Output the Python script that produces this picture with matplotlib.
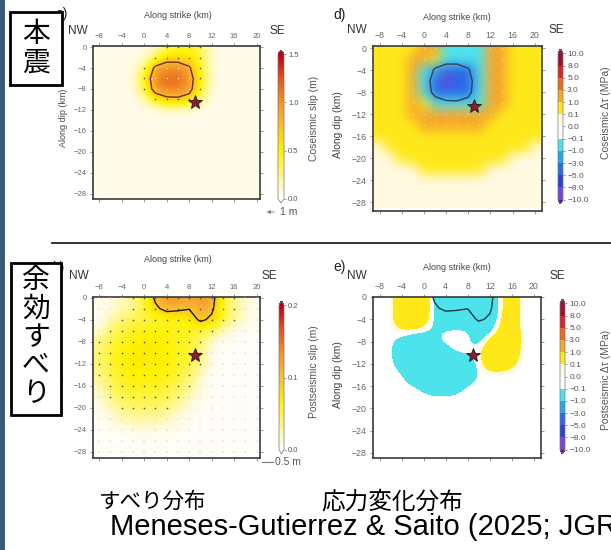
import numpy as np
import matplotlib
matplotlib.use('Agg')
import matplotlib.pyplot as plt
from matplotlib.colors import LinearSegmentedColormap, ListedColormap, BoundaryNorm, Normalize
from matplotlib.cm import ScalarMappable
from matplotlib.patches import Rectangle, FancyArrowPatch
from matplotlib.lines import Line2D

plt.rcParams['font.family'] = ['Liberation Sans', 'DejaVu Sans']
JP = ['Noto Sans CJK JP', 'DejaVu Sans']

W, H = 611, 550

# ---- data (2 km grid) ----
strike_km = [-8, -6, -4, -2, 0, 2, 4, 6, 8, 10, 12, 14, 16, 18, 20]
dip_km = [0, -2, -4, -6, -8, -10, -12, -14, -16, -18, -20, -22, -24, -26, -28]

# coseismic slip (m)
cos_slip = [
    [.05, .05, .05, .05, .05, .10, .33, .38, .42, .33, .07, .05, .05, .05, .05],
    [.05, .05, .05, .05, .08, .35, .60, .60, .55, .38, .08, .05, .05, .05, .05],
    [.05, .05, .05, .06, .30, .90, 1.05, 1.05, .85, .40, .08, .05, .05, .05, .05],
    [.05, .05, .05, .08, .45, 1.10, 1.15, 1.15, 1.00, .45, .08, .05, .05, .05, .05],
    [.05, .05, .05, .07, .38, 1.00, 1.10, 1.10, .95, .40, .07, .05, .05, .05, .05],
    [.05, .05, .05, .05, .15, .50, .70, .72, .62, .22, .05, .05, .05, .05, .05],
    [.05, .05, .05, .05, .05, .07, .09, .09, .07, .05, .05, .05, .05, .05, .05],
    [.05, .05, .05, .05, .05, .05, .05, .05, .05, .05, .05, .05, .05, .05, .05],
    [.05, .05, .05, .05, .05, .05, .05, .05, .05, .05, .05, .05, .05, .05, .05],
    [.05, .05, .05, .05, .05, .05, .05, .05, .05, .05, .05, .05, .05, .05, .05],
    [.05, .05, .05, .05, .05, .05, .05, .05, .05, .05, .05, .05, .05, .05, .05],
    [.05, .05, .05, .05, .05, .05, .05, .05, .05, .05, .05, .05, .05, .05, .05],
    [.05, .05, .05, .05, .05, .05, .05, .05, .05, .05, .05, .05, .05, .05, .05],
    [.05, .05, .05, .05, .05, .05, .05, .05, .05, .05, .05, .05, .05, .05, .05],
    [.05, .05, .05, .05, .05, .05, .05, .05, .05, .05, .05, .05, .05, .05, .05],
]

# postseismic slip (m)
post_slip = [
    [.005, .01, .02, .03, .05, .11, .13, .13, .12, .13, .12, .05, .03, .01, .005],
    [.005, .01, .02, .03, .05, .09, .115, .11, .102, .12, .11, .05, .03, .01, .005],
    [.005, .02, .035, .045, .05, .05, .06, .06, .07, .11, .09, .05, .03, .01, .005],
    [.01, .04, .05, .055, .06, .06, .06, .06, .055, .05, .045, .02, .005, .003, .003],
    [.03, .05, .06, .065, .07, .07, .065, .06, .055, .04, .01, .003, .003, .003, .003],
    [.035, .055, .065, .07, .07, .07, .065, .06, .055, .035, .005, .003, .003, .003, .003],
    [.035, .055, .065, .07, .07, .07, .065, .06, .05, .03, .005, .003, .003, .003, .003],
    [.03, .05, .06, .065, .065, .065, .06, .055, .04, .015, .003, .003, .003, .003, .003],
    [.02, .045, .055, .06, .06, .06, .055, .045, .03, .01, .003, .003, .003, .003, .003],
    [.01, .035, .045, .05, .05, .05, .045, .035, .02, .005, .003, .003, .003, .003, .003],
    [.005, .02, .035, .04, .04, .04, .035, .02, .01, .003, .003, .003, .003, .003, .003],
    [.003, .01, .02, .025, .025, .025, .02, .01, .005, .003, .003, .003, .003, .003, .003],
    [.003, .003, .005, .01, .01, .01, .005, .003, .003, .003, .003, .003, .003, .003, .003],
    [.003, .003, .003, .003, .003, .003, .003, .003, .003, .003, .003, .003, .003, .003, .003],
    [.003, .003, .003, .003, .003, .003, .003, .003, .003, .003, .003, .003, .003, .003, .003],
]

# coseismic shear stress change (MPa)
cos_stress = [
    [.6, .6, .7, .9, 1.2, 1.4, -.5, -.7, -.7, -.6, 1.3, 1.1, .8, .6, .6],
    [.6, .6, .8, 1.1, 1.4, .8, -.6, -.9, -.8, -.6, 1.4, 1.2, .8, .6, .5],
    [.5, .6, .8, 1.2, -.5, -2.5, -4.5, -4.5, -3.5, -.6, 1.4, 1.2, .8, .6, .5],
    [.5, .6, .8, 1.2, -.6, -4, -8.5, -5, -4, -.8, 1.4, 1.2, .8, .6, .5],
    [.5, .6, .8, 1.2, -.6, -3.5, -4.5, -4.5, -3.5, -.8, 1.4, 1.2, .8, .6, .5],
    [.5, .6, .8, 1.2, .2, -.6, -.8, -.8, -.7, -.5, 1.3, 1.1, .8, .6, .5],
    [.4, .5, .7, 1.0, 1.2, 1.3, 1.3, 1.3, 1.3, 1.2, 1.1, .9, .7, .5, .4],
    [.3, .4, .6, .8, 1.0, 1.1, 1.1, 1.1, 1.1, 1.0, .9, .7, .5, .4, .3],
    [.15, .25, .4, .55, .7, .8, .85, .85, .8, .7, .6, .5, .35, .25, .15],
    [.08, .12, .2, .3, .4, .5, .55, .55, .5, .45, .35, .25, .15, .1, .08],
    [.05, .06, .1, .15, .2, .25, .3, .3, .28, .22, .15, .1, .07, .05, .05],
    [.04, .05, .06, .08, .1, .12, .14, .14, .12, .1, .08, .06, .05, .04, .04],
    [.04, .04, .04, .05, .05, .06, .06, .06, .06, .05, .05, .04, .04, .04, .04],
    [.04, .04, .04, .04, .04, .04, .04, .04, .04, .04, .04, .04, .04, .04, .04],
    [.03, .03, .03, .03, .03, .03, .03, .03, .03, .03, .03, .03, .03, .03, .03],
]

# postseismic shear stress change (MPa)
post_stress = [
    [-.05, -.05, .5, .6, .4, -.15, -.6, -.6, -.6, -.6, -.5, .05, .5, -.1, -.05],
    [-.05, -.05, .5, .6, .4, -.15, -.6, -.5, -.6, -.6, -.5, .05, .5, -.1, -.05],
    [-.05, -.05, .5, .6, .4, -.2, -.4, -.3, -.4, -.5, -.4, .1, .5, -.1, -.05],
    [-.05, -.05, .05, .05, -.05, -.2, -.05, -.05, -.05, -.3, -.3, .3, .5, -.1, -.05],
    [-.05, -.05, -.2, -.4, -.4, -.1, -.05, -.05, -.05, -.25, .3, .5, .5, -.05, -.05],
    [-.05, -.05, -.3, -.5, -.5, -.4, -.2, -.05, -.05, .05, .5, .6, .4, -.05, -.05],
    [-.05, -.05, -.2, -.5, -.6, -.6, -.5, -.4, -.3, -.05, .4, .4, .2, -.05, -.05],
    [-.05, -.05, -.05, -.3, -.5, -.6, -.6, -.5, -.3, -.05, -.05, -.05, -.05, -.05, -.05],
    [-.05, -.05, -.05, -.05, -.15, -.3, -.3, -.2, -.05, -.05, -.05, -.05, -.05, -.05, -.05],
    [-.05, -.05, -.05, -.05, -.05, -.05, -.05, -.05, -.05, -.05, -.05, -.05, -.05, -.05, -.05],
    [-.05, -.05, -.05, -.05, -.05, -.05, -.05, -.05, -.05, -.05, -.05, -.05, -.05, -.05, -.05],
    [-.05, -.05, -.05, -.05, -.05, -.05, -.05, -.05, -.05, -.05, -.05, -.05, -.05, -.05, -.05],
    [-.05, -.05, -.05, -.05, -.05, -.05, -.05, -.05, -.05, -.05, -.05, -.05, -.05, -.05, -.05],
    [-.05, -.05, -.05, -.05, -.05, -.05, -.05, -.05, -.05, -.05, -.05, -.05, -.05, -.05, -.05],
    [-.05, -.05, -.05, -.05, -.05, -.05, -.05, -.05, -.05, -.05, -.05, -.05, -.05, -.05, -.05],
]

hypocenter = (9.0, -10.5)
x_ticks = [-8, -4, 0, 4, 8, 12, 16, 20]
y_ticks = [0, -4, -8, -12, -16, -20, -24, -28]
co_slip_ticks = [0.0, 0.5, 1.0, 1.5]
post_slip_ticks = [0.0, 0.1, 0.2]
stress_bounds = [-10, -8, -5, -3, -1, -0.1, 0, 0.1, 1, 3, 5, 8, 10]
stress_colors = ['#7a44d8', '#2a40d8', '#2a6ae8', '#25a8ea', '#4de3ec', '#ffffff',
                 '#fffae0', '#ffe81a', '#f6a82a', '#ee6a20', '#d8242a', '#a0102c']

# ---- colour maps ----
slip_cmap = LinearSegmentedColormap.from_list(
    'slip', [(0, '#ffffff'), (0.04, '#fffbe4'), (0.33, '#fff200'), (0.55, '#f9b233'),
             (0.7, '#f08a24'), (0.85, '#e04a1e'), (1.0, '#b8001a')])
slip_cmap.set_over('#a00018')
slip_cmap.set_under('#ffffff')
stress_cmap = ListedColormap(stress_colors)
stress_cmap.set_over('#7a1a50')
stress_cmap.set_under('#4a1a90')
stress_norm = BoundaryNorm(stress_bounds, stress_cmap.N)

fig = plt.figure(figsize=(W / 100, H / 100), dpi=100)


def fx(x):
    return x / W


def fy(y):
    return 1 - y / H


def box(l, t, r, b):
    return [fx(l), fy(b), (r - l) / W, (b - t) / H]


def ftext(x, y, s, **kw):
    return fig.text(fx(x), fy(y), s, **kw)


def draw_panel(rect, data, cmap, norm, xlim, ylim, stage='data', fs=5.5):
    ax = fig.add_axes(box(*rect))
    ext = (strike_km[0] - 1, strike_km[-1] + 1, dip_km[-1] - 1, dip_km[0] + 1)
    ax.imshow(np.array(data), cmap=cmap, norm=norm, extent=ext, origin='upper',
              interpolation='bicubic', interpolation_stage=stage, aspect='auto')
    ax.set_xlim(*xlim)
    ax.set_ylim(*ylim)
    ax.set_xticks(x_ticks)
    ax.set_yticks(y_ticks)
    ax.tick_params(top=True, bottom=True, left=True, right=True, labeltop=True,
                   labelbottom=False, direction='out', length=2.5, width=0.6,
                   color='#888888', labelsize=fs, labelcolor='#666666', pad=2)
    for sp in ax.spines.values():
        sp.set_linewidth(1.2)
        sp.set_color('#3a3a3a')
    ax.plot(*hypocenter, marker='*', ms=10, mfc='#8e1b2e', mec='#1a1a1a', mew=0.6, zorder=6)
    return ax


def draw_cbar(rect, cmap, norm, ticks, labels, fs=5.5):
    cax = fig.add_axes(box(*rect))
    sm = ScalarMappable(norm=norm, cmap=cmap)
    cb = fig.colorbar(sm, cax=cax, extend='both', extendfrac=0.03, ticks=ticks,
                      spacing='uniform')
    cb.set_ticklabels(labels)
    cb.outline.set_linewidth(0.5)
    cb.outline.set_edgecolor('#777777')
    cax.tick_params(labelsize=fs, labelcolor='#555555', length=1.5, width=0.5,
                    pad=1.5, color='#666666')
    return cb


gx, gy = np.meshgrid(strike_km, dip_km)

# a) coseismic slip
ax_a = draw_panel((93, 46, 260, 199), cos_slip, slip_cmap, Normalize(0, 1.5), (-9.1, 20.6), (-29, 0.2))
s = np.array(cos_slip)
m = (s >= 0.25) & (s < 0.8)
ax_a.scatter(gx[m], gy[m], marker='+', s=3, c='#6b5a3a', linewidths=0.4, zorder=4)
m = s >= 0.8
ax_a.scatter(gx[m], gy[m], marker='.', s=4, c='#fde8c0', linewidths=0, zorder=4)
ax_a.contour(strike_km, dip_km, s, levels=[0.8], colors='#7a2e0e', linewidths=1.0, zorder=5)

# d) coseismic stress
ax_d = draw_panel((373, 46, 542, 211), cos_stress, stress_cmap, stress_norm, (-9.2, 21.3), (-29.6, 0.4),
                  stage='rgba', fs=6.3)
t = np.array(cos_stress)
m = t >= 1.0
ax_d.scatter(gx[m], gy[m], marker='.', s=3, c='white', alpha=0.5, linewidths=0, zorder=4)
ax_d.contour(strike_km, dip_km, s, levels=[0.8], colors='#34405a', linewidths=1.0, zorder=5)

# b) postseismic slip
ax_b = draw_panel((93, 297, 260, 458), post_slip, slip_cmap, Normalize(0, 0.2), (-9.1, 20.6), (-29.1, 0.1))
p = np.array(post_slip)
m = p >= 0.03
ax_b.scatter(gx[m], gy[m], marker='+', s=3, c='#555548', linewidths=0.4, zorder=4)
m = p < 0.03
ax_b.scatter(gx[m], gy[m], marker='+', s=2, c='#d5d5d5', linewidths=0.3, zorder=4)
ax_b.contour(strike_km, dip_km, p, levels=[0.1], colors='#1a1a1a', linewidths=1.0, zorder=5)

# e) postseismic stress
ax_e = draw_panel((373, 297, 541, 458), post_stress, stress_cmap, stress_norm, (-9.2, 21.3), (-28.9, 0.0),
                  fs=6.3)
ax_e.contour(strike_km, dip_km, p, levels=[0.1], colors='#153a40', linewidths=1.0, zorder=5)

# colour bars
fmt = lambda v: f'{v:.1f}'.replace('-', '\u2212')
draw_cbar((278, 50, 284, 203), slip_cmap, Normalize(0, 1.5), co_slip_ticks, [fmt(v) for v in co_slip_ticks])
draw_cbar((279, 301, 284, 454), slip_cmap, Normalize(0, 0.2), post_slip_ticks, [fmt(v) for v in post_slip_ticks])
draw_cbar((558, 49, 563, 204), stress_cmap, stress_norm, stress_bounds, [fmt(v) for v in stress_bounds], fs=6)
draw_cbar((560, 299, 565, 454), stress_cmap, stress_norm, stress_bounds, [fmt(v) for v in stress_bounds], fs=6)

# axis titles and annotations
lab = dict(fontsize=6.5, color='#444444', ha='center', va='center')
for cx, cy in [(178, 16), (457, 17), (178, 260), (457, 268)]:
    ftext(cx, cy, 'Along strike (km)', **lab)
for cx, cy, fs in [(63, 118, 6.5), (338, 125, 7.5), (60, 370, 6.5), (338, 375, 7.5)]:
    ftext(cx, cy, 'Along dip (km)', rotation=90, fontsize=fs, color='#444444', ha='center', va='center')
ne = dict(fontsize=8.5, color='#333333', ha='center', va='center')
for x1, x2, yy in [(78, 277, 31), (357, 556, 30), (79, 269, 276), (357, 557, 276)]:
    ftext(x1, yy, 'NW', **ne)
    ftext(x2, yy, 'SE', **ne)
for x, y, s_ in [(62, 14, 'a)'), (340, 15, 'd)'), (58, 268, 'b)'), (340, 267, 'e)')]:
    ftext(x, y, s_, fontsize=10, color='#222222', ha='center', va='center')

cl = dict(rotation=90, fontsize=7.5, color='#555555', ha='center', va='center')
ftext(314, 118, 'Coseismic slip (m)', **cl)
ftext(314, 372, 'Postseismic slip (m)', **cl)
ftext(606, 113, 'Coseismic \u0394\u03c4 (MPa)', **cl)
ftext(606, 380, 'Postseismic \u0394\u03c4 (MPa)', **cl)

# slip scale vectors
fig.add_artist(FancyArrowPatch((fx(277), fy(212)), (fx(264), fy(212)), transform=fig.transFigure,
                               arrowstyle='-|>', mutation_scale=5, lw=0.6, color='#777777'))
ftext(280, 212, '1 m', fontsize=7.5, color='#555555', ha='left', va='center')
fig.add_artist(Line2D([fx(262), fx(273)], [fy(462), fy(462)], transform=fig.transFigure,
                      lw=0.8, color='#777777'))
ftext(275, 462, '0.5 m', fontsize=7.5, color='#555555', ha='left', va='center')

# frame decorations
fig.add_artist(Rectangle((0, 0), fx(5), 1, transform=fig.transFigure, facecolor='#3c5a7a',
                         edgecolor='none', zorder=10))
fig.add_artist(Line2D([fx(52), 1], [fy(243), fy(243)], transform=fig.transFigure,
                      lw=1.3, color='#222222', zorder=10))

# Japanese label boxes
fig.add_artist(Rectangle((fx(10), fy(85)), 52 / W, 73 / H, transform=fig.transFigure,
                         facecolor='white', edgecolor='black', lw=2, zorder=10))
for i, ch in enumerate('本震'):
    ftext(36, 34 + 29 * i, ch, fontsize=20, family=JP, ha='center', va='center', zorder=11)
fig.add_artist(Rectangle((fx(11), fy(415)), 50 / W, 152 / H, transform=fig.transFigure,
                         facecolor='white', edgecolor='black', lw=2, zorder=10))
for i, ch in enumerate('余効すべり'):
    ftext(36, 280 + 28.3 * i, ch, fontsize=20, family=JP, ha='center', va='center', zorder=11)

# captions
ftext(153, 502, 'すべり分布', fontsize=15.5, family=JP, ha='center', va='center')
ftext(392, 502, '応力変化分布', fontsize=17, family=JP, ha='center', va='center')
ftext(110, 527, 'Meneses-Gutierrez & Saito (2025; JGR)', fontsize=21, ha='left', va='center')

fig.savefig('out.png', dpi=100)
